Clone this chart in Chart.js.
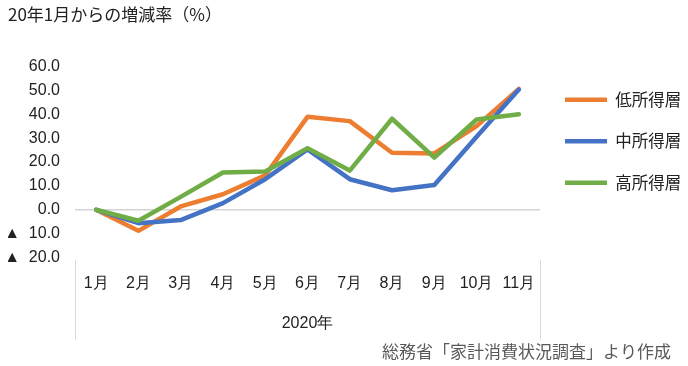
<!DOCTYPE html>
<html>
<head>
<meta charset="utf-8">
<script src="https://cdn.jsdelivr.net/npm/chart.js@4/dist/chart.umd.min.js"></script>
<style>
  html, body { margin: 0; padding: 0; background: #fff; }
  #wrap { width: 688px; height: 366px; }
</style>
</head>
<body>
<div id="wrap"><canvas id="c"></canvas></div>
<script>
// values (% change from Jan 2020)
var months = ['1月', '2月', '3月', '4月', '5月', '6月', '7月', '8月', '9月', '10月', '11月'];
var lowIncome = [0, -8.8, 1.4, 6.5, 14.4, 38.9, 37.1, 23.9, 23.6, 35.0, 50.6];
var midIncome = [0, -5.6, -4.3, 2.8, 12.8, 25.3, 12.8, 8.2, 10.4, 30.6, 50.3];
var highIncome = [0, -4.6, 5.4, 15.6, 16.0, 25.8, 16.4, 38.1, 21.8, 37.8, 40.0];
var seriesNames = ['低所得層', '中所得層', '高所得層'];
var yMin = -20, yMax = 60, yStep = 10;

var jp = '"Noto Sans CJK JP", "Liberation Sans", sans-serif';
var num = '"Liberation Sans", Arial, "DejaVu Sans", sans-serif';

// the thin grey lines closing the category axis box on both sides
var dividers = {
	id: 'dividers',
	afterDraw: function(chart){
		var x = chart.scales.x;
		var ctx = chart.ctx;
		ctx.save();
		ctx.strokeStyle = '#d9d9d9';
		ctx.lineWidth = 1;
		[x.left, x.right].forEach(function(px){
			ctx.beginPath();
			ctx.moveTo(Math.round(px) + 0.5, x.top + 2);
			ctx.lineTo(Math.round(px) + 0.5, x.bottom + 2);
			ctx.stroke();
		});
		ctx.restore();
	}
};

function line(label, data, color, order){
	return {
		label: label,
		data: data,
		borderColor: color,
		backgroundColor: color,
		borderWidth: 4.5,
		borderCapStyle: 'round',
		borderJoinStyle: 'round',
		pointRadius: 0,
		tension: 0,
		order: order
	};
}

new Chart(document.getElementById('c'), {
	type: 'line',
	data: {
		labels: months,
		datasets: [
			line(seriesNames[0], lowIncome, '#ED7D31', 3),
			line(seriesNames[1], midIncome, '#4472C4', 2),
			line(seriesNames[2], highIncome, '#70AD47', 1)
		]
	},
	plugins: [dividers],
	options: {
		responsive: true,
		maintainAspectRatio: false,
		animation: false,
		layout: { padding: { left: 8, right: 0, top: 0, bottom: 0 } },
		scales: {
			x: {
				offset: true,
				grid: { display: false, drawTicks: false },
				border: { display: false },
				ticks: { color: '#222', padding: 16, font: { family: num, size: 16 }, maxRotation: 0, autoSkip: false },
				title: { display: true, text: '2020年', color: '#222', font: { family: num, size: 16 }, padding: { top: 0, bottom: 4 } },
				afterFit: function(scale){ scale.height = 80; }
			},
			y: {
				min: yMin,
				max: yMax,
				ticks: {
					stepSize: yStep,
					color: '#222',
					padding: 15,
					font: { family: num, size: 16 },
					callback: function(v){ return v < 0 ? '▲  ' + (-v).toFixed(1) : v.toFixed(1); }
				},
				grid: {
					drawTicks: false,
					lineWidth: 1.5,
					color: function(c){ return c.tick && c.tick.value === 0 ? '#d4d4d4' : 'rgba(0,0,0,0)'; }
				},
				border: { display: false },
				afterFit: function(scale){ scale.width = 67; }
			}
		},
		plugins: {
			title: {
				display: true,
				text: '20年1月からの増減率（%）',
				align: 'start',
				color: '#222',
				font: { family: jp, size: 17, weight: 'normal' },
				padding: { top: 4, bottom: 42 }
			},
			subtitle: {
				display: true,
				position: 'bottom',
				align: 'end',
				text: '総務省「家計消費状況調査」より作成\u3000',
				color: '#595959',
				font: { family: jp, size: 17 },
				padding: { top: 4, bottom: 4 }
			},
			legend: {
				position: 'right',
				align: 'start',
				fullSize: false,
				maxWidth: 148,
				labels: {
					usePointStyle: true,
					pointStyle: 'line',
					pointStyleWidth: 42,
					padding: 25,
					color: '#222',
					font: { family: jp, size: 16.5 },
					sort: function(a, b){ return a.datasetIndex - b.datasetIndex; }
				}
			},
			tooltip: { enabled: false }
		}
	}
});
</script>
</body>
</html>
